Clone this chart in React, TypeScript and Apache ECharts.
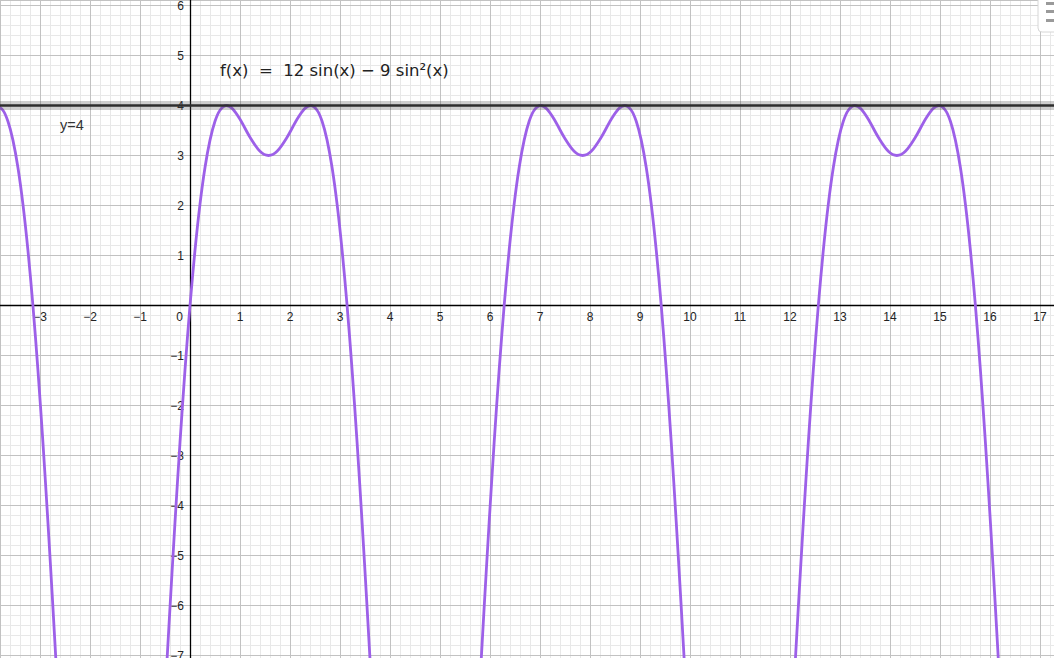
import React, { useEffect, useRef } from "react";
import * as echarts from "echarts";

// Canvas size
const W = 1054;
const H = 658;

// View window (math units)
const X_MIN = -3.8;
const X_MAX = 17.28;
const Y_MIN = -7.05;
const Y_MAX = 6.11;

const branch1X = [-3.8713, -3.7416, -3.6416, -3.5416, -3.4416, -3.3416, -3.2416, -3.1416, -3.0416, -2.9416, -2.8416, -2.7416, -2.6416, -2.5416];
const branch1Y = [4.0, 3.906, 3.685, 3.308, 2.76, 2.029, 1.108, 0, -1.288, -2.739, -4.332, -6.038, -7.821, -9.644];

const periodY = [-9.644, -7.821, -6.038, -4.332, -2.739, -1.288, 0, 1.108, 2.029, 2.76, 3.308, 3.685, 3.906, 4.0, 3.935, 3.725, 3.366, 3.085, 3.0, 3.085, 3.366, 3.725, 3.935, 4.0, 3.906, 3.685, 3.308, 2.76, 2.029, 1.108, 0, -1.288, -2.739, -4.332, -6.038, -7.821, -9.644];

const branch2X = [-0.6, -0.5, -0.4, -0.3, -0.2, -0.1, 0, 0.1, 0.2, 0.3, 0.4, 0.5, 0.6, 0.7297, 0.85, 1.0, 1.2, 1.4, 1.5708, 1.7416, 1.9416, 2.1416, 2.2916, 2.4119, 2.5416, 2.6416, 2.7416, 2.8416, 2.9416, 3.0416, 3.1416, 3.2416, 3.3416, 3.4416, 3.5416, 3.6416, 3.7416];
const branch3X = [5.6832, 5.7832, 5.8832, 5.9832, 6.0832, 6.1832, 6.2832, 6.3832, 6.4832, 6.5832, 6.6832, 6.7832, 6.8832, 7.0129, 7.1332, 7.2832, 7.4832, 7.6832, 7.854, 8.0248, 8.2248, 8.4248, 8.5748, 8.6951, 8.8248, 8.9248, 9.0248, 9.1248, 9.2248, 9.3248, 9.4248, 9.5248, 9.6248, 9.7248, 9.8248, 9.9248, 10.0248];
const branch4X = [11.9664, 12.0664, 12.1664, 12.2664, 12.3664, 12.4664, 12.5664, 12.6664, 12.7664, 12.8664, 12.9664, 13.0664, 13.1664, 13.2961, 13.4164, 13.5664, 13.7664, 13.9664, 14.1372, 14.308, 14.508, 14.708, 14.858, 14.9783, 15.108, 15.208, 15.308, 15.408, 15.508, 15.608, 15.708, 15.808, 15.908, 16.008, 16.108, 16.208, 16.308];

// Horizontal line y = 4
const hLineY = 4;

const FORMULA = "f(x)  =  12 sin(x) \u2212 9 sin\u00B2(x)";
const HLINE_LABEL = "y=4";

const CURVE_COLOR = "#9d60e8";
const LABEL_FONT = "Liberation Sans, Arial, sans-serif";

// Axis crossing offsets derived from the view window
const Y_AXIS_OFFSET = -((0 - X_MIN) / (X_MAX - X_MIN)) * W;
const X_AXIS_OFFSET = -((0 - Y_MIN) / (Y_MAX - Y_MIN)) * H;

function zip(xs: number[], ys: number[]) {
  return xs.map((x, i) => [x, ys[i]]);
}

function fmtNum(v: number) {
  return v < 0 ? "\u2212" + String(-v) : String(v);
}

export default function App() {
  const ref = useRef<HTMLDivElement>(null);

  useEffect(() => {
    if (!ref.current) return;
    const chart = echarts.init(ref.current, undefined, { renderer: "svg" });

    const hidden = {
      axisLine: { show: false, onZero: false },
      axisTick: { show: false },
      axisLabel: { show: false },
    };

    const curveSeries = [
      zip(branch1X, branch1Y),
      zip(branch2X, periodY),
      zip(branch3X, periodY),
      zip(branch4X, periodY),
    ].map((data) => ({
      type: "line",
      xAxisIndex: 0,
      yAxisIndex: 0,
      data,
      smooth: 0.3,
      showSymbol: false,
      clip: true,
      z: 5,
      lineStyle: { color: CURVE_COLOR, width: 2.8 },
      silent: true,
    }));

    const option: any = {
      animation: false,
      backgroundColor: "#ffffff",
      grid: {
        left: 0,
        right: 0,
        top: 0,
        bottom: 0,
        containLabel: false,
        outerBoundsMode: "none",
      },
      xAxis: [
        {
          type: "value",
          position: "bottom",
          offset: X_AXIS_OFFSET,
          min: X_MIN,
          max: X_MAX,
          minInterval: 1,
          maxInterval: 1,
          splitNumber: 21,
          z: 3,
          splitLine: { show: false },
          axisTick: { show: false },
          axisLine: {
            show: true,
            onZero: false,
            lineStyle: { color: "#000000", width: 1.3 },
          },
          axisLabel: {
            show: true,
            showMinLabel: false,
            showMaxLabel: false,
            margin: 5,
            color: "#222",
            fontSize: 12,
            fontFamily: LABEL_FONT,
            formatter: (v: number) => {
              if (Math.abs(v - Math.round(v)) > 1e-6) return "";
              if (Math.round(v) === 0) return "{z|0}";
              return fmtNum(Math.round(v));
            },
            rich: {
              z: {
                padding: [0, 21, 0, 0],
                color: "#222",
                fontSize: 12,
                fontFamily: LABEL_FONT,
              },
            },
          },
        },
        {
          type: "value",
          min: X_MIN,
          max: X_MAX,
          minInterval: 0.2,
          maxInterval: 0.2,
          splitNumber: 105,
          z: 0,
          ...hidden,
          splitLine: { show: true, lineStyle: { color: "#e8e8e8", width: 1 } },
        },
        {
          type: "value",
          min: X_MIN,
          max: X_MAX,
          minInterval: 1,
          maxInterval: 1,
          splitNumber: 21,
          z: 1,
          ...hidden,
          splitLine: { show: true, lineStyle: { color: "#c2c2c2", width: 1 } },
        },
      ],
      yAxis: [
        {
          type: "value",
          position: "left",
          offset: Y_AXIS_OFFSET,
          min: Y_MIN,
          max: Y_MAX,
          minInterval: 1,
          maxInterval: 1,
          splitNumber: 13,
          z: 3,
          splitLine: { show: false },
          axisTick: { show: false },
          axisLine: {
            show: true,
            onZero: false,
            lineStyle: { color: "#000000", width: 1.3 },
          },
          axisLabel: {
            show: true,
            showMinLabel: false,
            showMaxLabel: false,
            margin: 6,
            color: "#222",
            fontSize: 12,
            fontFamily: LABEL_FONT,
            formatter: (v: number) => {
              if (Math.abs(v - Math.round(v)) > 1e-6) return "";
              if (Math.round(v) === 0) return "";
              return fmtNum(Math.round(v));
            },
          },
        },
        {
          type: "value",
          min: Y_MIN,
          max: Y_MAX,
          minInterval: 0.2,
          maxInterval: 0.2,
          splitNumber: 66,
          z: 0,
          ...hidden,
          splitLine: { show: true, lineStyle: { color: "#e8e8e8", width: 1 } },
        },
        {
          type: "value",
          min: Y_MIN,
          max: Y_MAX,
          minInterval: 1,
          maxInterval: 1,
          splitNumber: 13,
          z: 1,
          ...hidden,
          splitLine: { show: true, lineStyle: { color: "#c2c2c2", width: 1 } },
        },
      ],
      series: [
        ...curveSeries,
        {
          type: "line",
          xAxisIndex: 0,
          yAxisIndex: 0,
          data: [
            [X_MIN, hLineY],
            [X_MAX, hLineY],
          ],
          showSymbol: false,
          silent: true,
          z: 6,
          lineStyle: { color: "rgba(80,80,80,0.28)", width: 9 },
        },
        {
          type: "line",
          xAxisIndex: 0,
          yAxisIndex: 0,
          data: [
            [X_MIN, hLineY],
            [X_MAX, hLineY],
          ],
          showSymbol: false,
          silent: true,
          z: 7,
          lineStyle: { color: "#2e2e2e", width: 2.6 },
        },
      ],
      graphic: [
        {
          type: "text",
          left: 220,
          top: 62,
          z: 10,
          style: {
            text: FORMULA,
            fontSize: 16.5,
            fontFamily: "DejaVu Sans, sans-serif",
            fill: "#222",
          },
        },
        {
          type: "text",
          left: 60,
          top: 117,
          z: 10,
          style: {
            text: HLINE_LABEL,
            fontSize: 14.5,
            fontFamily: LABEL_FONT,
            fill: "#333",
          },
        },
        {
          type: "rect",
          shape: { x: 1038, y: -6, width: 24, height: 38, r: 4 },
          z: 10,
          style: { fill: "#ffffff", stroke: "#d6d6d6", lineWidth: 1 },
        },
        {
          type: "rect",
          shape: { x: 1046, y: 2, width: 10, height: 3 },
          z: 11,
          style: { fill: "#9a9a9a" },
        },
        {
          type: "rect",
          shape: { x: 1046, y: 10, width: 10, height: 3 },
          z: 11,
          style: { fill: "#9a9a9a" },
        },
        {
          type: "rect",
          shape: { x: 1046, y: 19, width: 10, height: 3 },
          z: 11,
          style: { fill: "#9a9a9a" },
        },
      ],
    };

    chart.setOption(option);
    return () => chart.dispose();
  }, []);

  return (
    <div
      ref={ref}
      style={{
        position: "absolute",
        left: 0,
        top: 0,
        width: W,
        height: H,
        background: "#fff",
      }}
    />
  );
}
